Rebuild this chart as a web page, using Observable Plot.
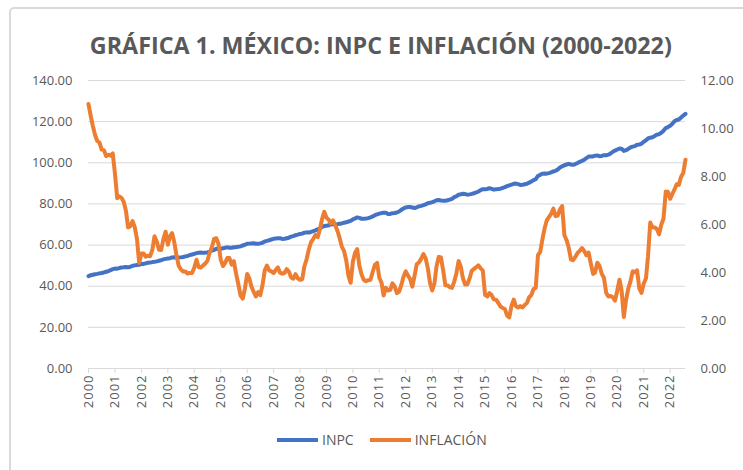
<!DOCTYPE html>
<html><head><meta charset="utf-8">
<script src="https://cdn.jsdelivr.net/npm/d3@7"></script>
<script src="https://cdn.jsdelivr.net/npm/@observablehq/plot@0.6"></script>
<style>
html,body{margin:0;padding:0;background:#fff;}
#wrap{position:relative;width:743px;height:470px;overflow:hidden;font-family:"Open Sans",sans-serif;background:#fff;}
#frame{position:absolute;left:9px;top:7px;width:800px;height:520px;border:2px solid #d9d9d9;border-radius:5px;box-sizing:border-box;}
#title{position:absolute;left:0;top:33px;width:762px;text-align:center;white-space:nowrap;line-height:1;}
#title span{display:inline-block;font-weight:700;font-size:24px;color:#595959;transform-origin:center;}
#chart{position:absolute;left:0;top:60px;}
#legend{position:absolute;left:277px;top:430px;height:20px;display:flex;align-items:center;font-size:14px;color:#595959;}
.sw{width:41px;height:4px;margin-right:4px;}
.lt{line-height:20px;}
</style></head><body>
<div id="wrap">
  <div id="frame"></div>
  <div id="title"><span id="tspan">GRÁFICA 1. MÉXICO: INPC E INFLACIÓN (2000-2022)</span></div>
  <div id="chart"></div>
  <div id="legend">
    <div class="sw" style="background:#4472C4"></div><div class="lt">INPC</div>
    <div class="sw" style="background:#ED7D31;margin-left:16px"></div><div class="lt">INFLACIÓN</div>
  </div>
</div>
<script>
// Monthly series, January 2000 to August 2022
const startYear = 2000;
const inpc = [
  44.93,45.33,45.58,45.82,45.99,46.26,46.44,46.70,47.04,47.36,47.77,48.29,
  48.56,48.53,48.83,49.07,49.17,49.30,49.17,49.46,49.92,50.14,50.34,50.41,
  50.87,50.84,51.10,51.38,51.48,51.73,51.88,52.08,52.39,52.62,53.05,53.28,
  53.49,53.64,53.98,54.07,53.90,53.94,54.02,54.18,54.50,54.70,55.16,55.40,
  55.74,56.08,56.27,56.35,56.21,56.30,56.45,56.80,57.27,57.66,58.16,58.28,
  58.23,58.42,58.68,58.89,58.74,58.68,58.91,58.98,59.22,59.37,59.80,60.16,
  60.61,60.70,60.78,60.87,60.60,60.65,60.82,61.13,61.75,62.02,62.34,62.70,
  63.03,63.20,63.34,63.30,62.99,63.07,63.33,63.59,64.09,64.34,64.80,65.06,
  65.36,65.56,66.03,66.18,66.11,66.38,66.75,67.13,67.59,68.04,68.81,69.29,
  69.44,69.59,69.99,70.24,70.04,70.17,70.36,70.52,70.87,71.08,71.45,71.74,
  72.52,72.94,73.46,73.23,72.77,72.75,72.91,73.11,73.49,73.94,74.53,74.90,
  75.27,75.56,75.70,75.69,75.13,75.13,75.49,75.61,75.80,76.31,77.13,77.76,
  78.31,78.47,78.52,78.27,78.01,78.37,78.82,79.06,79.41,79.80,80.35,80.53,
  80.85,81.25,81.84,81.90,81.64,81.59,81.57,81.79,82.10,82.50,83.27,83.74,
  84.49,84.71,84.94,84.78,84.51,84.65,84.89,85.20,85.57,86.04,86.74,87.17,
  87.09,87.26,87.62,87.39,86.95,87.10,87.23,87.41,87.73,88.18,88.66,89.03,
  89.37,89.76,89.89,89.61,89.21,89.31,89.54,89.79,90.34,90.89,91.60,92.02,
  93.60,94.14,94.72,94.83,94.72,94.96,95.32,95.79,96.08,96.69,97.69,98.27,
  98.80,99.17,99.49,99.15,98.99,99.38,99.91,100.49,100.92,101.44,102.30,103.02,
  103.11,103.08,103.48,103.53,103.23,103.30,103.69,103.67,103.94,104.50,105.35,105.93,
  106.45,106.89,106.84,105.76,106.16,106.74,107.44,107.87,108.11,108.77,108.86,109.27,
  110.21,110.91,111.82,112.19,112.42,113.02,113.68,113.90,114.60,115.56,116.88,117.31,
  118.00,118.98,120.16,120.81,121.02,122.04,122.95,123.80
];
const inflacion = [
  11.02,10.52,10.11,9.73,9.48,9.41,9.12,9.10,8.85,8.91,8.87,8.96,
  8.11,7.09,7.17,7.11,6.95,6.57,5.88,5.93,6.14,5.89,5.39,4.40,
  4.79,4.79,4.66,4.70,4.68,4.94,5.51,5.29,4.95,4.94,5.39,5.70,
  5.16,5.52,5.64,5.25,4.70,4.27,4.13,4.04,4.04,3.96,3.98,3.98,
  4.20,4.53,4.23,4.21,4.29,4.37,4.49,4.82,5.06,5.40,5.43,5.19,
  4.54,4.27,4.39,4.60,4.60,4.33,4.47,3.95,3.51,3.05,2.91,3.33,
  3.94,3.75,3.41,3.20,3.00,3.18,3.06,3.47,4.09,4.29,4.09,4.05,
  3.98,4.11,4.21,3.99,3.95,3.98,4.14,4.03,3.79,3.74,3.93,3.76,
  3.70,3.72,4.25,4.55,4.95,5.26,5.39,5.57,5.47,5.78,6.23,6.53,
  6.28,6.20,6.04,6.17,5.98,5.74,5.44,5.08,4.89,4.50,3.86,3.57,
  4.46,4.83,4.97,4.27,3.92,3.69,3.64,3.68,3.70,4.02,4.32,4.40,
  3.78,3.57,3.04,3.36,3.25,3.28,3.55,3.42,3.14,3.20,3.48,3.82,
  4.05,3.87,3.73,3.41,3.85,4.34,4.42,4.57,4.77,4.60,4.18,3.57,
  3.25,3.55,4.25,4.65,4.63,4.09,3.47,3.46,3.39,3.36,3.62,3.97,
  4.48,4.23,3.76,3.50,3.51,3.75,4.07,4.15,4.22,4.30,4.17,4.08,
  3.07,3.00,3.14,3.06,2.88,2.87,2.74,2.59,2.52,2.48,2.21,2.13,
  2.61,2.87,2.60,2.54,2.60,2.54,2.65,2.73,2.97,3.06,3.31,3.36,
  4.72,4.86,5.35,5.82,6.16,6.31,6.44,6.66,6.35,6.37,6.63,6.77,
  5.55,5.34,5.04,4.55,4.51,4.65,4.81,4.90,5.02,4.90,4.72,4.83,
  4.37,3.94,4.00,4.41,4.28,3.95,3.78,3.16,3.00,3.02,2.97,2.83,
  3.24,3.70,3.25,2.15,2.84,3.33,3.62,4.05,4.01,4.09,3.33,3.15,
  3.54,3.76,4.67,6.08,5.89,5.88,5.81,5.59,6.00,6.24,7.37,7.36,
  7.07,7.28,7.45,7.68,7.65,7.99,8.15,8.70
];
const yearTicks = ["2000","2001","2002","2003","2004","2005","2006","2007","2008","2009","2010","2011",
  "2012","2013","2014","2015","2016","2017","2018","2019","2020","2021","2022"];
const leftTicks = [0,20,40,60,80,100,120,140];
const rightTicks = [0,2,4,6,8,10,12];

const leftMax = 140, rightMax = 12;
const ratio = leftMax / rightMax;
const data = inpc.map((v, i) => ({
  date: new Date(Date.UTC(startYear + Math.floor(i / 12), i % 12, 1)),
  inpc: v,
  infl: inflacion[i]
}));
const tickDates = yearTicks.map(y => new Date(Date.UTC(+y, 0, 1)));

const chart = Plot.plot({
  width: 743,
  height: 370,
  marginLeft: 88,
  marginRight: 58,
  marginTop: 20,
  marginBottom: 62,
  style: {fontFamily: "'Open Sans', sans-serif", fontSize: "12px", color: "#595959", background: "transparent"},
  x: {type: "utc", domain: [data[0].date, data[data.length - 1].date]},
  y: {domain: [0, leftMax]},
  marks: [
    Plot.gridY(leftTicks.filter(d => d > 0), {stroke: "#d9d9d9", strokeOpacity: 1, strokeWidth: 1}),
    Plot.ruleY([0], {stroke: "#d9d9d9", strokeWidth: 1}),
    Plot.axisX(tickDates, {tickFormat: d => String(d.getUTCFullYear()), tickRotate: -90, tickSize: 5, tickPadding: 1, stroke: "#d9d9d9", fill: "#595959", fontSize: 13, label: null}),
    Plot.axisY(leftTicks, {anchor: "left", tickSize: 0, tickPadding: 16, tickFormat: d => d.toFixed(2), fontSize: 13, fill: "#595959", label: null}),
    Plot.axisY(rightTicks.map(d => d * ratio), {anchor: "right", tickSize: 0, tickPadding: 15, tickFormat: d => (d / ratio).toFixed(2), fontSize: 13, fill: "#595959", label: null}),
    Plot.lineY(data, {x: "date", y: "inpc", stroke: "#4472C4", strokeWidth: 4, strokeLinejoin: "round", strokeLinecap: "round"}),
    Plot.lineY(data, {x: "date", y: d => d.infl * ratio, stroke: "#ED7D31", strokeWidth: 4, strokeLinejoin: "round", strokeLinecap: "round"})
  ]
});
document.getElementById("chart").appendChild(chart);
d3.select(chart).selectAll("[aria-label='x-axis tick label'] text").attr("letter-spacing", "1");

const ts = document.getElementById("tspan");
const w = ts.getBoundingClientRect().width;
ts.style.transform = `scaleX(${582 / w})`;
</script>
</body></html>
